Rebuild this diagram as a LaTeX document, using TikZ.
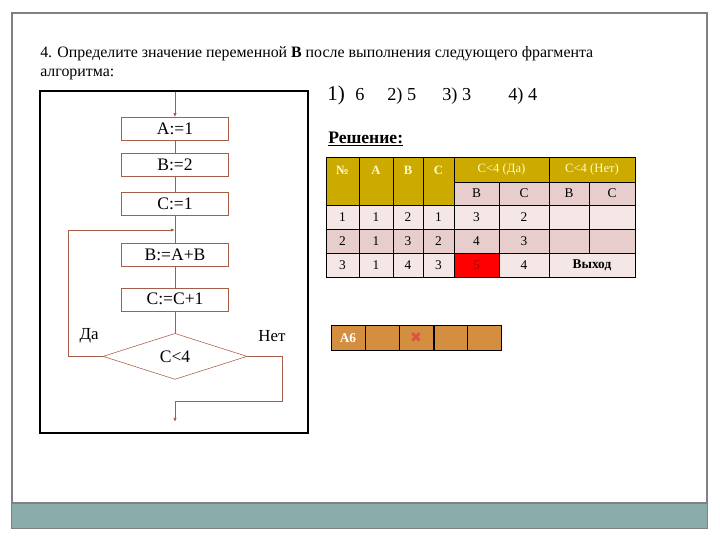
\documentclass[tikz,border=0pt]{standalone}
\usepackage{fontspec}
\setmainfont{Liberation Serif}
\newfontfamily\symfont{DejaVu Sans}
\usetikzlibrary{shapes.geometric, arrows.meta, positioning}

\definecolor{flowline}{RGB}{165,95,70}
\definecolor{framegray}{RGB}{128,128,128}
\definecolor{barcol}{RGB}{138,172,170}
\definecolor{hdrgold}{RGB}{204,170,0}
\definecolor{hdrtext}{RGB}{255,250,205}
\definecolor{pinkl}{RGB}{244,231,230}
\definecolor{pinkd}{RGB}{231,206,205}
\definecolor{darkred}{RGB}{170,0,0}
\definecolor{orangec}{RGB}{212,142,64}
\definecolor{crosscol}{RGB}{225,80,70}

\begin{document}
\begin{tikzpicture}[x=0.025cm, y=-0.025cm,
            box/.style={draw=flowline, minimum width=2.675cm, minimum height=0.575cm, inner sep=1pt, font=\fontsize{12.5}{14}\selectfont},
            cond/.style={diamond, draw=flowline, minimum width=3.6cm, minimum height=1.15cm, inner sep=0pt, font=\fontsize{12.5}{14}\selectfont},
            flow/.style={draw=flowline, line width=0.6pt},
            arr/.style={-{Latex[length=3pt,width=2.5pt]}},
            grid/.style={draw=black, line width=0.7pt},
            hdr/.style={font=\fontsize{9}{10}\selectfont\bfseries, text=hdrtext},
            cell/.style={font=\fontsize{9.5}{10}\selectfont}
        ]
            \useasboundingbox (0,0) rectangle (720,540);

            % slide frame
            \draw[framegray, line width=0.8pt] (12,13) rectangle (707,528);
            \fill[barcol] (12,503) rectangle (707,528);
            \draw[framegray, line width=0.8pt] (12,503) -- (707,503);

            % task text
            \node[anchor=base west, inner sep=0pt, font=\fontsize{11.3}{13}\selectfont] (task) at (40,57) {4. Определите значение переменной \textbf{B} после выполнения следующего фрагмента};
            \node[anchor=base west, inner sep=0pt, font=\fontsize{11.3}{13}\selectfont] (task2) at (40,76) {алгоритма:};
            \node[anchor=base west, inner sep=0pt, font=\fontsize{15}{16}\selectfont] (ans1) at (327,100) {1)};
            \node[anchor=base west, inner sep=0pt, font=\fontsize{13}{15}\selectfont] (ans1v) at (355,100) {6};
            \node[anchor=base west, inner sep=0pt, font=\fontsize{13}{15}\selectfont] (ans2) at (387,100) {2) 5};
            \node[anchor=base west, inner sep=0pt, font=\fontsize{13}{15}\selectfont] (ans3) at (442,100) {3) 3};
            \node[anchor=base west, inner sep=0pt, font=\fontsize{13}{15}\selectfont] (ans4) at (508,100) {4) 4};

            % flowchart
            \draw[black, line width=0.8pt] (40,91) rectangle (308,433);
            \coordinate (start) at (175,92);
            \node[box] (a1) at (175,129) {A:=1};
            \node[box, below=0.3cm of a1] (b2) {B:=2};
            \node[box, below=0.4cm of b2] (c1) {C:=1};
            \node[box, below=0.675cm of c1] (bab) {B:=A+B};
            \node[box, below=0.525cm of bab] (cc1) {C:=C+1};
            \node[cond, below=0.55cm of cc1] (test) {C<4};
            \coordinate (join) at (175,230);
            \coordinate (exit) at (175,422);

            \draw[flow, arr] (start) -- (a1);
            \draw[flow] (a1) -- (b2);
            \draw[flow] (b2) -- (c1);
            \draw[flow] (c1) -- (bab);
            \draw[flow] (bab) -- (cc1);
            \draw[flow] (cc1) -- (test);
            \draw[flow, arr] (test.west) -- ++(-34,0) |- (join);
            \draw[flow, arr] (test.east) -- ++(35,0) -- ++(0,45) -| (exit);

            \node[font=\fontsize{12}{14}\selectfont] (yes) at (89,336) {Да};
            \node[font=\fontsize{12}{14}\selectfont] (no) at (272,336) {Нет};

            % solution table
            \node[anchor=base west, inner sep=0pt, font=\fontsize{12.5}{14}\selectfont\bfseries] (sol) at (328,143) {\underline{Решение:}};

            \fill[hdrgold] (326,157) rectangle (635,182);
            \fill[hdrgold] (326,182) rectangle (454,205);
            \fill[pinkd] (454,182) rectangle (635,205);
            \fill[pinkl] (326,205) rectangle (635,229);
            \fill[pinkd] (326,229) rectangle (635,253);
            \fill[pinkl] (326,253) rectangle (635,277);
            \fill[red] (454,253) rectangle (499,277);

            \draw[grid] (326,157) rectangle (635,277);
            \foreach \x in {359,393,423,454,549}
                \draw[grid] (\x,157) -- (\x,277);
            \draw[grid] (454,182) -- (635,182);
            \foreach \y in {205,229,253}
                \draw[grid] (326,\y) -- (635,\y);
            \draw[grid] (499,182) -- (499,277);
            \draw[grid] (589,182) -- (589,253);

            \foreach \x/\t [count=\i] in {342.5/№, 376/A, 408/B, 438.5/C}
                \node[hdr] (h\i) at (\x,170) {\t};
            \node[hdr, font=\fontsize{9}{10}\selectfont] (hyes) at (501.5,169.5) {C<4 (Да)};
            \node[hdr, font=\fontsize{9}{10}\selectfont] (hno) at (592,169.5) {C<4 (Нет)};
            \foreach \x/\t [count=\i] in {476.5/B, 524/C, 569/B, 612/C}
                \node[cell] (s\i) at (\x,193.5) {\t};

            \foreach \n/\a/\b/\c/\yb/\yc [count=\r] in {1/1/2/1/3/2, 2/1/3/2/4/3, 3/1/4/3/5/4} {
                \pgfmathsetmacro{\ry}{193+24*\r}
                \node[cell] (n\r) at (342.5,\ry) {\n};
                \node[cell] (a\r) at (376,\ry) {\a};
                \node[cell] (b\r) at (408,\ry) {\b};
                \node[cell] (c\r) at (438.5,\ry) {\c};
                \node[cell] (yc\r) at (524,\ry) {\yc};
            }
            \node[cell] (yb1) at (476.5,217) {3};
            \node[cell] (yb2) at (476.5,241) {4};
            \node[cell, text=darkred] (yb3) at (476.5,265) {5};
            \node[cell, font=\fontsize{9.5}{10}\selectfont\bfseries] (out) at (592,265) {Выход};

            % answer cells
            \foreach \x in {331,365,399,434,467}
                \draw[fill=orangec, line width=0.7pt] (\x,325) rectangle ++(34,25);
            \node[font=\fontsize{9.5}{10}\selectfont\bfseries, text=white] (a6) at (348,338) {A6};
            \node[font=\symfont\fontsize{10}{11}\selectfont, text=crosscol] (mark) at (416,338) {✖};
        \end{tikzpicture}
\end{document}
